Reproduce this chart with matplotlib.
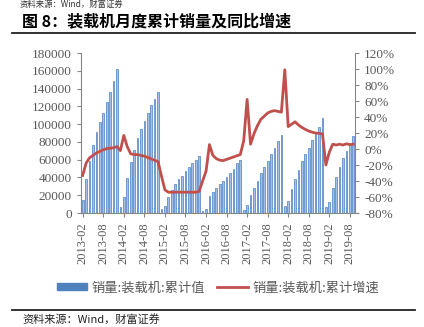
import matplotlib
matplotlib.use("Agg")
from matplotlib import pyplot as plt
from matplotlib.patches import Patch
from matplotlib.lines import Line2D
import numpy as np

# monthly cumulative loader sales, 2013-02 .. 2019-09
sales_2013 = [15000, 38000, 58000, 76000, 91000, 102000, 113000, 125000, 136000, 148000, 162000]
sales_2014 = [6500, 17600, 39000, 57000, 71000, 84000, 94000, 104000, 113000, 121000, 128000, 136000]
sales_2015 = [4500, 7500, 17600, 26000, 32600, 38000, 42000, 47500, 52000, 56000, 60000, 64000]
sales_2016 = [2200, 5000, 19000, 24000, 28500, 32500, 36000, 40500, 44500, 50000, 56000, 60000]
sales_2017 = [3750, 9200, 20300, 28500, 36500, 44600, 51500, 58200, 66000, 73500, 81000, 88000]
sales_2018 = [8000, 13700, 26800, 37900, 48900, 58300, 66400, 73500, 81600, 90700, 97300, 107300]
sales_2019 = [6750, 12400, 28000, 40500, 51700, 62000, 69400, 77000, 86600]

# cumulative yoy growth, %
growth_2013 = [-33, -17.5, -11, -8, -5, -3, -1, 0.5, 1, 1.5, 3]
growth_2014 = [-2, 17, 3, -6, -7, -7, -8, -9, -10.5, -12.5, -14, -16]
growth_2015 = [-34, -51, -54, -54, -54, -54, -54, -54, -54, -54, -54, -53]
growth_2016 = [-40, -28, 5.5, -8, -12, -14, -14.5, -13, -11.5, -10, -8.5, -7]
growth_2017 = [10, 62, 6, 19, 29, 37, 41, 45, 47, 48, 47, 46]
growth_2018 = [99, 28, 31, 34, 30, 27, 24.5, 22.5, 21, 20, 19.5, 19]
growth_2019 = [-20, -4, 6, 5, 6, 5, 6.5, 5.5, 6]

tick_labels = ["2013-02", "2013-08", "2014-02", "2014-08", "2015-02", "2015-08",
               "2016-02", "2016-08", "2017-02", "2017-08", "2018-02", "2018-08",
               "2019-02", "2019-08"]

sales = np.array(sales_2013 + sales_2014 + sales_2015 + sales_2016 + sales_2017 + sales_2018 + sales_2019)
growth = np.array(growth_2013 + growth_2014 + growth_2015 + growth_2016 + growth_2017 + growth_2018 + growth_2019)
x = np.arange(len(sales))

cjk = ["Noto Sans CJK SC", "DejaVu Sans"]
serif = "Liberation Serif"
grey = "#595959"
spine = "#868686"

fig = plt.figure(figsize=(4.24, 3.27), dpi=100)
W, H = 424.0, 327.0

ax = fig.add_axes([81 / W, 1 - 213 / H, (355 - 81) / W, (213 - 53) / H])
ax.bar(x, sales, width=0.5, color="#A3C1E8", edgecolor="#4A7EC2", linewidth=0.5)
ax.set_xlim(-0.5, len(x) - 0.5)
ax.set_ylim(0, 180000)
ax.set_yticks(np.arange(0, 180001, 20000))
ax.set_yticklabels([str(v) for v in range(0, 180001, 20000)], fontfamily=serif, fontsize=9.5, color=grey)
ax.set_xticks(np.arange(0, len(x), 6))
ax.set_xticklabels(tick_labels, rotation=90, fontfamily=serif, fontsize=9, color=grey)
ax.tick_params(axis="both", direction="out", length=3, color=spine, width=0.8)

ax2 = ax.twinx()
ax2.plot(x, growth, color="#C0504D", linewidth=2)
ax2.set_ylim(-80, 120)
ax2.set_yticks(np.arange(-80, 121, 20))
ax2.set_yticklabels(["%d%%" % v for v in range(-80, 121, 20)], fontfamily=serif, fontsize=9.5, color=grey)
ax2.tick_params(axis="y", direction="out", length=3, color=spine, width=0.8)

for a in (ax, ax2):
    a.spines["top"].set_visible(False)
    for s in ("left", "right", "bottom"):
        a.spines[s].set_color(spine)
        a.spines[s].set_linewidth(0.8)
ax.spines["right"].set_visible(False)
ax2.spines["left"].set_visible(False)
ax2.spines["bottom"].set_visible(False)

handles = [Patch(facecolor="#4F81BD", edgecolor="#4F81BD"),
           Line2D([0], [0], color="#C0504D", linewidth=2)]
fig.legend(handles, ["销量:装载机:累计值", "销量:装载机:累计增速"],
           loc="center", bbox_to_anchor=(218 / W, 1 - 288 / H), ncol=2, frameon=False,
           prop={"family": cjk, "size": 9.5}, labelcolor=grey,
           handlelength=2.3, handleheight=0.45, handletextpad=0.35, columnspacing=0.9)

# page furniture: title, rules, source notes
fig.text(20 / W, 1.0, "资料来源：Wind，财富证券", family=cjk, fontsize=6, color="#333333", va="top")
fig.text(22 / W, 1 - 21 / H, "图 8：装载机月度累计销量及同比增速", family=cjk, fontsize=11.5,
         fontweight="bold", color="black", va="center")
fig.add_artist(Line2D([12 / W, 415 / W], [1 - 33 / H, 1 - 33 / H], color="#222222", linewidth=1.3))
fig.add_artist(Line2D([12 / W, 415 / W], [1 - 310 / H, 1 - 310 / H], color="#222222", linewidth=1.3))
fig.text(22 / W, 2 / H, "资料来源：Wind，财富证券", family=cjk, fontsize=8, style="italic",
         color="#222222", va="bottom")

fig.savefig("out.png", dpi=100)
